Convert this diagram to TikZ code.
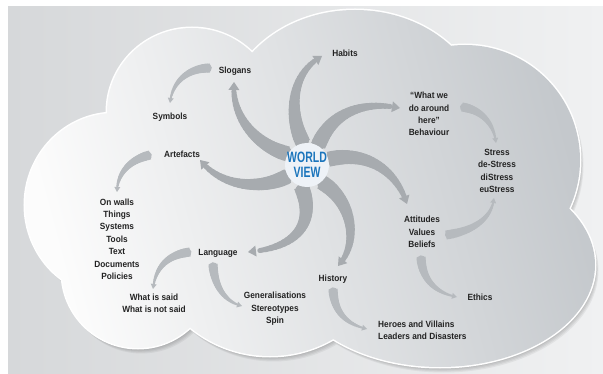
\documentclass[tikz,border=0pt]{standalone}
\usepackage{fontspec}
\usepackage{xcolor}
\usepackage{tikz}
\usetikzlibrary{calc}
\newfontfamily\cloudfont{Liberation Sans}[FakeStretch=0.92]
\newfontfamily\hubfont{Liberation Sans}[FakeStretch=0.7]
\definecolor{bg_dark}{RGB}{214,216,218}
\definecolor{bg_light}{RGB}{240,241,242}
\definecolor{cloud_light}{RGB}{252,252,252}
\definecolor{cloud_mid}{RGB}{236,237,238}
\definecolor{cloud_dark}{RGB}{196,200,204}
\definecolor{arm_grey}{RGB}{167,171,175}
\definecolor{twig_grey}{RGB}{182,186,190}
\definecolor{hub_fill}{RGB}{238,242,247}
\definecolor{view_blue}{RGB}{27,117,188}
\definecolor{txt_dark}{RGB}{35,35,35}

% the outline of the cloud, one lobe after the other
\newcommand{\cloudlobes}{%
  (192,112) ellipse[x radius=85pt, y radius=84pt]
  (355,120) ellipse[x radius=130pt, y radius=110pt]
  (465,160) circle[radius=115pt]
  (440,265) ellipse[x radius=155pt, y radius=102pt]
  (270,230) circle[radius=126pt]
  (138,272) circle[radius=76pt]
  (115,205) ellipse[x radius=90pt, y radius=92pt]}

% tapered arrow: from, control 1, control 2, to,
% start width, end width, half head width, head length, colour
\newcommand{\swirlarrow}[9]{%
  \foreach \k [evaluate=\k as \tp using \k/24] in {0,...,24}
    \path (#1) .. controls (#2) and (#3) .. (#4) coordinate[pos=\tp] (sw\k);
  \draw[#9, line width=#5pt] (sw0) -- (sw1);
  \foreach \k [evaluate=\k as \lw using #5+(#6-#5)*(\k-1)/20,
               evaluate=\k as \nx using int(\k+1)] in {1,...,21}
    \draw[#9, line width=\lw pt, line cap=round] (sw\k) -- (sw\nx);
  \coordinate (swb) at ($(sw24)!#8!(sw22)$);
  \fill[#9] (sw24) -- ($(swb)!#7!90:(sw24)$) -- ($(swb)!#7!-90:(sw24)$) -- cycle;
}

\begin{document}
\begin{tikzpicture}[x=1pt, y=-1pt,
    lbl/.style={font=\cloudfont\bfseries\fontsize{9}{12.4}\selectfont,
      text=txt_dark, align=center, inner sep=1pt},
    view/.style={font=\hubfont\bfseries\fontsize{15}{15}\selectfont,
      text=view_blue, align=center, inner sep=0pt},
    hub/.style={circle, minimum size=44pt, inner sep=0pt}]

  \useasboundingbox (0,0) rectangle (603,374);

  %% ---- backdrop and cloud ----------------------------------------------
  \fill[white] (0,0) rectangle (603,374);
  \shade[left color=bg_dark, right color=bg_light] (8,7) rectangle (603,374);

  \foreach \s in {1,...,5}
    \fill[black, opacity=0.05, shift={(\s*0.7,\s*1.1)}] \cloudlobes;
  \draw[white, line width=3pt] \cloudlobes;
  \shade[left color=cloud_light, middle color=cloud_mid,
    right color=cloud_dark, shading angle=105] \cloudlobes;

  %% ---- the hub and its seven arms --------------------------------------
  \node[hub] (world) at (307,165) {};

  \coordinate (to_slogans)   at (234,82);
  \coordinate (to_habits)    at (322,56);
  \coordinate (to_behaviour) at (400,108);
  \coordinate (to_attitudes) at (407,204);
  \coordinate (to_history)   at (338,266);
  \coordinate (to_language)  at (248,252);
  \coordinate (to_artefacts) at (200,160);

  \swirlarrow{world.150}{260,147}{231,120}{to_slogans}{15}{5}{5.5pt}{8pt}{arm_grey}
  \swirlarrow{world.100}{290,118}{288,75}{to_habits}{15}{5}{5.5pt}{8pt}{arm_grey}
  \swirlarrow{world.60}{330,115}{360,100}{to_behaviour}{15}{5}{5.5pt}{8pt}{arm_grey}
  \swirlarrow{world.15}{368,150}{397,172}{to_attitudes}{15}{5}{5.5pt}{8pt}{arm_grey}
  \swirlarrow{world.-50}{352,200}{360,243}{to_history}{15}{5}{5.5pt}{8pt}{arm_grey}
  \swirlarrow{world.-105}{316,222}{298,248}{to_language}{15}{5}{5.5pt}{8pt}{arm_grey}
  \swirlarrow{world.-150}{262,190}{222,188}{to_artefacts}{15}{5}{5.5pt}{8pt}{arm_grey}

  \fill[hub_fill] (world) circle[radius=22pt];
  \node[view] (world_label) at (world) {WORLD\\VIEW};

  %% ---- labels ----------------------------------------------------------
  \node[lbl] (slogans)   at (235,71)  {Slogans};
  \node[lbl] (habits)    at (345,53)  {Habits};
  \node[lbl] (symbols)   at (170,117) {Symbols};
  \node[lbl] (artefacts) at (182,154) {Artefacts};
  \node[lbl] (behaviour) at (429,114) {“What we\\do around\\here”\\Behaviour};
  \node[lbl] (stress)    at (497,171) {Stress\\de-Stress\\diStress\\euStress};
  \node[lbl] (attitudes) at (422,232) {Attitudes\\Values\\Beliefs};
  \node[lbl] (ethics)    at (480,297) {Ethics};
  \node[lbl, align=left, anchor=west] (heroes) at (377,330)
    {Heroes and Villains\\Leaders and Disasters};
  \node[lbl] (history)   at (333,279) {History};
  \node[lbl] (generalisations) at (275,309) {Generalisations\\Stereotypes\\Spin};
  \node[lbl] (language)  at (218,253) {Language};
  \node[lbl] (said)      at (154,303) {What is said\\What is not said};
  \node[lbl] (walls)     at (117,239)
    {On walls\\Things\\Systems\\Tools\\Text\\Documents\\Policies};

  %% ---- small arrows between the labels ---------------------------------
  \coordinate (slogans_out)   at (210,68);
  \coordinate (symbols_in)    at (170,103);
  \coordinate (artefacts_out) at (150,155);
  \coordinate (walls_in)      at (117,192);
  \coordinate (language_w)    at (190,252);
  \coordinate (said_in)       at (153,289);
  \coordinate (language_s)    at (213,264);
  \coordinate (gen_in)        at (242,306);
  \coordinate (history_out)   at (333,289);
  \coordinate (heroes_in)     at (367,329);
  \coordinate (beliefs_out)   at (421,257);
  \coordinate (ethics_in)     at (457,297);
  \coordinate (values_out)    at (446,235);
  \coordinate (stress_low)    at (494,198);
  \coordinate (behaviour_out) at (462,107);
  \coordinate (stress_top)    at (496,143);

  \swirlarrow{slogans_out}{188,68}{172,82}{symbols_in}{9}{2}{3pt}{5pt}{twig_grey}
  \swirlarrow{artefacts_out}{128,160}{117,175}{walls_in}{9}{2}{3pt}{5pt}{twig_grey}
  \swirlarrow{language_w}{165,255}{155,270}{said_in}{9}{2}{3pt}{5pt}{twig_grey}
  \swirlarrow{language_s}{214,286}{225,302}{gen_in}{9}{2}{3pt}{5pt}{twig_grey}
  \swirlarrow{history_out}{334,312}{346,324}{heroes_in}{9}{2}{3pt}{5pt}{twig_grey}
  \swirlarrow{beliefs_out}{422,280}{436,293}{ethics_in}{9}{2}{3pt}{5pt}{twig_grey}
  \swirlarrow{values_out}{474,231}{492,218}{stress_low}{9}{2}{3pt}{5pt}{twig_grey}
  \swirlarrow{behaviour_out}{482,110}{494,124}{stress_top}{9}{2}{3pt}{5pt}{twig_grey}
\end{tikzpicture}
\end{document}
